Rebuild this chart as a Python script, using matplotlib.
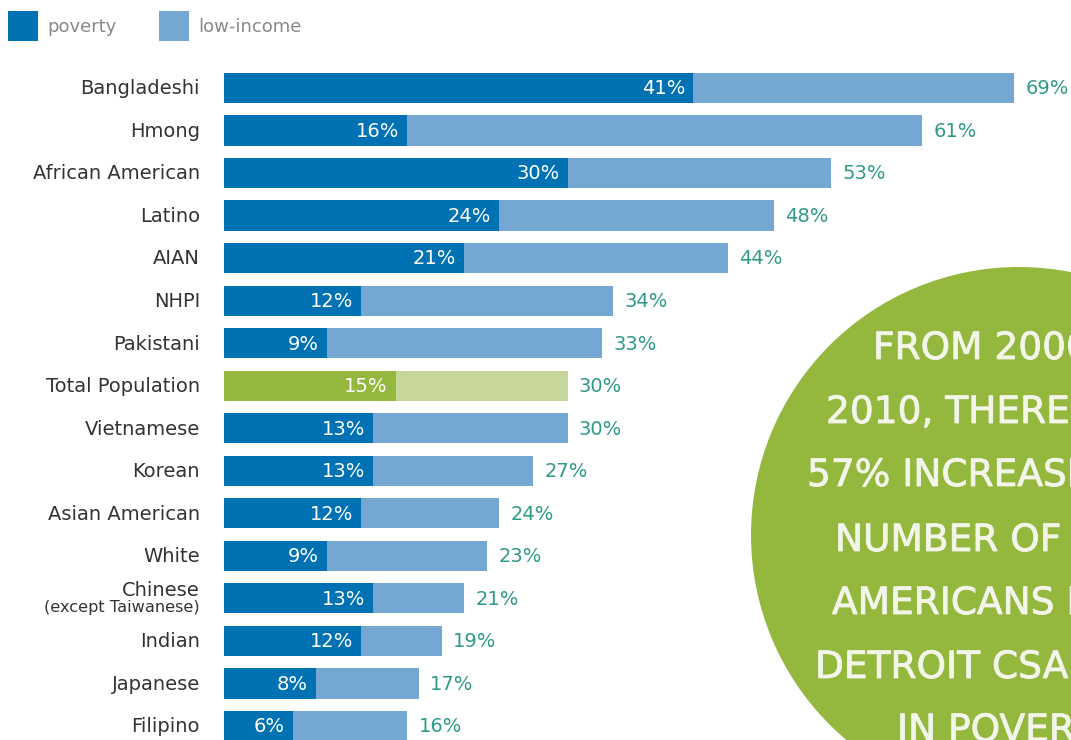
import matplotlib
matplotlib.use("Agg")
import matplotlib.pyplot as plt
import matplotlib.patheffects as pe
from matplotlib.patches import Circle, Rectangle

# data (percent of population)
groups = ["Bangladeshi", "Hmong", "African American", "Latino", "AIAN", "NHPI",
          "Pakistani", "Total Population", "Vietnamese", "Korean", "Asian American",
          "White", "Chinese", "Indian", "Japanese", "Filipino"]
poverty = [41, 16, 30, 24, 21, 12, 9, 15, 13, 13, 12, 9, 13, 12, 8, 6]
low_income = [69, 61, 53, 48, 44, 34, 33, 30, 30, 27, 24, 23, 21, 19, 17, 16]
highlight = "Total Population"

circle_lines = ["FROM 2000 TO", "2010, THERE WAS A", "57% INCREASE IN THE",
                "NUMBER OF ASIAN", "AMERICANS IN THE", "DETROIT CSA LIVING",
                "IN POVERTY"]

# colours
DARK_BLUE = "#0072b4"
LIGHT_BLUE = "#74a8d3"
GREEN = "#94b83e"
LIGHT_GREEN = "#c7d69a"
TEAL = "#2f9a89"
CIRCLE_TXT = "#f2f5e8"
FONT = "DejaVu Sans"

W, H = 1071, 740
fig = plt.figure(figsize=(W / 100, H / 100), dpi=100)

# pixel overlay for legend + circle
over = fig.add_axes([0, 0, 1, 1])
over.set_xlim(0, W)
over.set_ylim(H, 0)
over.axis("off")

over.add_patch(Circle((1019, 535), 268, color=GREEN, lw=0))
line_x = [873, 826, 807, 835, 832, 815, 897]
line_y = [349, 413, 476, 541, 604, 668, 731]
for txt, x, y in zip(circle_lines, line_x, line_y):
    over.text(x, y, txt, color=CIRCLE_TXT, fontsize=27, family=FONT,
              ha="left", va="center",
              path_effects=[pe.withStroke(linewidth=0.6, foreground=CIRCLE_TXT)])

# legend
for x, lab, col in [(8, "poverty", DARK_BLUE), (159, "low-income", LIGHT_BLUE)]:
    over.add_patch(Rectangle((x, 11), 30, 30, color=col, lw=0))
    over.text(x + 39, 27, lab, color="#888888", fontsize=13, family=FONT,
              ha="left", va="center")

# bar axes: 11.45 px per percent, starting at x=224
left = 224
scale = 11.45
row0, step = 88, 42.53
ax = fig.add_axes([left / W, 0, (W - left) / W, 1])
ax.set_xlim(0, (W - left) / scale)
ax.set_ylim((H - row0) / step, -row0 / step)
ax.axis("off")
ax.patch.set_alpha(0)

for i, (g, p, li) in enumerate(zip(groups, poverty, low_income)):
    c_dark, c_light = (GREEN, LIGHT_GREEN) if g == highlight else (DARK_BLUE, LIGHT_BLUE)
    ax.barh(i, li, height=0.71, color=c_light, lw=0)
    ax.barh(i, p, height=0.71, color=c_dark, lw=0)
    ax.text(p - 0.7, i + 0.02, f"{p}%", color="white", fontsize=14, family=FONT,
            ha="right", va="center")
    ax.text(li + 1.0, i + 0.02, f"{li}%", color=TEAL, fontsize=14, family=FONT,
            ha="left", va="center")
    if g == "Chinese":
        ax.text(-2.1, i - 0.19, g, color="#333333", fontsize=14, family=FONT,
                ha="right", va="center")
        ax.text(-2.1, i + 0.22, "(except Taiwanese)", color="#333333", fontsize=11.6,
                family=FONT, ha="right", va="center")
    else:
        ax.text(-2.1, i + 0.02, g, color="#333333", fontsize=14, family=FONT,
                ha="right", va="center")

fig.savefig("out.png", dpi=100)
